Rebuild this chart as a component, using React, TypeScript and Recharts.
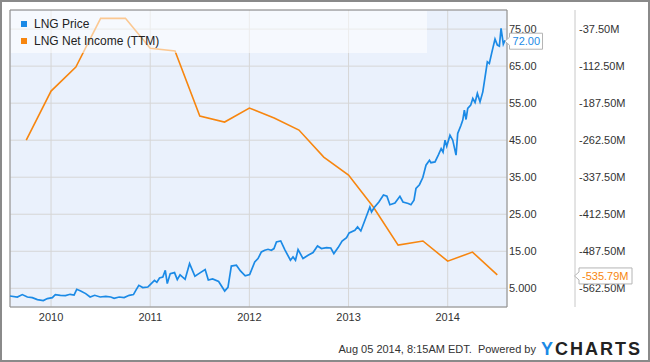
import React from "react";
import { ComposedChart, Line, XAxis, YAxis, CartesianGrid, Legend, ReferenceArea } from "recharts";

// LNG price (decimal year, USD)
const priceDates = [
  2009.586, 2009.66, 2009.71, 2009.761, 2009.811, 2009.862, 2009.922, 2009.963, 2010.013, 2010.043,
  2010.094, 2010.145, 2010.192, 2010.232, 2010.259, 2010.299, 2010.349, 2010.394, 2010.44, 2010.495,
  2010.552, 2010.602, 2010.636, 2010.687, 2010.737, 2010.788, 2010.831, 2010.859, 2010.885, 2010.925,
  2010.976, 2011.0, 2011.043, 2011.067, 2011.094, 2011.127, 2011.152, 2011.172, 2011.202, 2011.245,
  2011.273, 2011.301, 2011.352, 2011.397, 2011.451, 2011.498, 2011.554, 2011.586, 2011.629, 2011.69,
  2011.751, 2011.784, 2011.818, 2011.869, 2011.91, 2011.958, 2012.003, 2012.054, 2012.087, 2012.121,
  2012.155, 2012.188, 2012.222, 2012.248, 2012.273, 2012.316, 2012.357, 2012.414, 2012.44, 2012.465,
  2012.491, 2012.541, 2012.592, 2012.642, 2012.687, 2012.727, 2012.778, 2012.821, 2012.852, 2012.895,
  2012.935, 2012.98, 2013.006, 2013.064, 2013.091, 2013.124, 2013.165, 2013.215, 2013.232, 2013.259,
  2013.306, 2013.352, 2013.387, 2013.417, 2013.468, 2013.518, 2013.549, 2013.602, 2013.629, 2013.66,
  2013.68, 2013.715, 2013.749, 2013.781, 2013.816, 2013.831, 2013.872, 2013.905, 2013.934, 2013.953,
  2013.973, 2013.99, 2014.023, 2014.051, 2014.084, 2014.101, 2014.134, 2014.152, 2014.168, 2014.185,
  2014.202, 2014.232, 2014.253, 2014.276, 2014.299, 2014.326, 2014.354, 2014.377, 2014.4, 2014.42,
  2014.444, 2014.477, 2014.501, 2014.521, 2014.538, 2014.561, 2014.578,
];
const priceValues = [
  2.92, 2.65, 3.3, 2.65, 2.49, 1.95, 1.68, 2.22, 2.49, 3.3,
  3.11, 3.03, 3.38, 3.19, 4.73, 4.27, 3.57, 2.65, 3.11, 2.65,
  2.84, 2.65, 2.3, 2.65, 2.49, 3.11, 3.3, 4.65, 5.81, 5.19,
  5.35, 6.0, 7.16, 6.62, 7.78, 8.05, 9.86, 6.27, 8.97, 9.24,
  7.35, 8.65, 7.43, 11.68, 8.24, 9.11, 10.08, 7.24, 7.51, 6.84,
  4.27, 5.27, 11.0, 11.22, 9.68, 8.38, 8.7, 12.11, 13.03, 14.81,
  15.27, 15.54, 15.27, 15.73, 17.51, 17.78, 15.46, 12.57, 13.46, 12.57,
  15.46, 13.03, 13.92, 14.65, 16.43, 15.73, 16.0, 15.89, 14.38, 16.0,
  17.78, 18.7, 19.95, 20.68, 21.57, 20.49, 23.38, 26.97, 25.62, 26.81,
  28.32, 30.19, 29.86, 27.57, 28.05, 29.86, 28.32, 27.89, 27.57, 28.78,
  31.95, 32.97, 34.92, 38.24, 39.59, 38.92, 39.14, 40.95, 42.7, 41.76,
  45.0, 43.38, 46.35, 45.0, 40.95, 46.81, 49.05, 50.41, 53.11, 50.59,
  53.57, 54.46, 56.27, 55.19, 57.62, 55.35, 58.05, 62.11, 66.16, 65.73,
  68.59, 72.3, 70.68, 70.41, 75.19, 70.95, 72.0,
];

// quarterly net income (TTM), millions USD
const incomeDates = [
  2009.75, 2010.0, 2010.25, 2010.5, 2010.75, 2011.0, 2011.25, 2011.5, 2011.75, 2012.0,
  2012.25, 2012.5, 2012.75, 2013.0, 2013.25, 2013.5, 2013.75, 2014.0, 2014.25, 2014.5,
];
const incomeValues = [
  -262.5, -163.2, -114.5, -15.8, -15.8, -76.6, -82.1, -213.9, -226.0, -197.6,
  -217.9, -242.2, -297.0, -333.4, -398.0, -475.3, -467.0, -507.8, -489.5, -535.79,
];

const yearTicks = [2010, 2011, 2012, 2013, 2014];
const priceTicks = [5, 15, 25, 35, 45, 55, 65, 75];
const incomeTicks = [-562.5, -487.5, -412.5, -337.5, -262.5, -187.5, -112.5, -37.5];
const seriesNames = ["LNG Price", "LNG Net Income (TTM)"];

const BLUE = "#1b8ae6";
const ORANGE = "#f7860f";
const FONT = "'Liberation Sans', Arial, sans-serif";

const W = 650;
const H = 362;
const PRICE_AXIS_W = 68;
const INCOME_AXIS_W = 75;
const PLOT_RIGHT = W - PRICE_AXIS_W - INCOME_AXIS_W;

// axis ids: right axes get stacked by id, so price ("a") sits next to the plot
const PRICE_AXIS = "a";
const INCOME_AXIS = "b";

const X_DOMAIN: [number, number] = [2009.586, 2014.598];
const PRICE_DOMAIN: [number, number] = [-0.05, 80.16];
const INCOME_DOMAIN: [number, number] = [-600.75, 1.1];

const priceData = priceDates.map((t, i) => ({ t, price: priceValues[i] }));
const incomeData = incomeDates.map((t, i) => ({ t, income: incomeValues[i] }));

function Tag({ tipX, y, boxW, text, color }: { tipX: number; y: number; boxW: number; text: string; color: string }) {
  const left = tipX + 4.5;
  const top = y - 8;
  const d = `M${tipX},${y} L${left},${y - 4} L${left},${top} L${left + boxW},${top} L${left + boxW},${top + 16} L${left},${top + 16} L${left},${y + 4} Z`;
  return (
    <g>
      <path d={d} fill="#fff" stroke="#b4b4b4" strokeWidth={1} />
      <text x={left + 3} y={y} dy="0.36em" fill={color} fontSize={11} fontFamily={FONT}>
        {text}
      </text>
    </g>
  );
}

const renderPriceTag = (props: any) => {
  if (props.index !== priceValues.length - 1) return null;
  return <Tag tipX={props.x} y={props.y + 1} boxW={33} text={priceValues[props.index].toFixed(2)} color={BLUE} />;
};

const renderIncomeTag = (props: any) => {
  if (props.index !== incomeValues.length - 1) return null;
  return (
    <Tag tipX={PLOT_RIGHT + PRICE_AXIS_W - 0.5} y={props.y + 1} boxW={53} text={`${incomeValues[props.index].toFixed(2)}M`} color={ORANGE} />
  );
};

const renderLegend = () => (
  <div style={{ paddingTop: 4, paddingLeft: 10, fontFamily: FONT, fontSize: 12, color: "#222" }}>
    {seriesNames.map((name, i) => (
      <div key={name} style={{ display: "flex", alignItems: "center", height: 17 }}>
        <span style={{ width: 6, height: 6, background: i === 0 ? BLUE : ORANGE, marginRight: 7 }} />
        <span>{name}</span>
      </div>
    ))}
  </div>
);

export default function App() {
  return (
    <div style={{ position: "fixed", left: 0, top: 0, width: W, height: H, background: "#fff", fontFamily: FONT }}>
      <ComposedChart width={W} height={H} margin={{ top: 10, right: 0, bottom: 35, left: 10 }}>
        <CartesianGrid yAxisId={PRICE_AXIS} stroke="#d6d6d6" fill="#eaf1fc" />
        <XAxis
          dataKey="t"
          type="number"
          domain={X_DOMAIN}
          ticks={yearTicks}
          height={20}
          axisLine={false}
          tickLine={false}
          tickSize={0}
          tickMargin={6}
          tick={{ fill: "#333", fontSize: 11 }}
          tickFormatter={(v) => String(v)}
        />
        <YAxis
          yAxisId={PRICE_AXIS}
          orientation="right"
          width={PRICE_AXIS_W}
          domain={PRICE_DOMAIN}
          ticks={priceTicks}
          axisLine={false}
          tickLine={false}
          tickSize={0}
          tickMargin={2}
          tick={{ fill: "#333", fontSize: 11 }}
          tickFormatter={(v) => Number(v).toPrecision(4)}
        />
        <YAxis
          yAxisId={INCOME_AXIS}
          orientation="right"
          width={INCOME_AXIS_W}
          domain={INCOME_DOMAIN}
          ticks={incomeTicks}
          axisLine={{ stroke: "#c8c8c8" }}
          tickLine={false}
          tickSize={0}
          tickMargin={4}
          tick={{ fill: "#333", fontSize: 11 }}
          tickFormatter={(v) => `${Number(v).toFixed(2)}M`}
        />
        <Line
          yAxisId={INCOME_AXIS}
          data={incomeData}
          dataKey="income"
          type="linear"
          stroke={ORANGE}
          strokeWidth={1.6}
          dot={false}
          isAnimationActive={false}
          label={renderIncomeTag}
        />
        <Line
          yAxisId={PRICE_AXIS}
          data={priceData}
          dataKey="price"
          type="linear"
          stroke={BLUE}
          strokeWidth={1.7}
          dot={false}
          isAnimationActive={false}
          label={renderPriceTag}
        />
        <ReferenceArea
          yAxisId={PRICE_AXIS}
          x1={X_DOMAIN[0]}
          x2={X_DOMAIN[1]}
          y1={PRICE_DOMAIN[0]}
          y2={PRICE_DOMAIN[1]}
          fill="none"
          fillOpacity={0}
          stroke="#8c8c8c"
          strokeWidth={1}
        />
        <Legend
          layout="vertical"
          align="center"
          verticalAlign="middle"
          wrapperStyle={{ left: 11, top: 11, width: 416, height: 42, background: "rgba(255,255,255,0.55)" }}
          content={renderLegend}
        />
      </ComposedChart>
      <div
        style={{
          position: "absolute",
          right: 8,
          top: 339,
          height: 20,
          display: "flex",
          alignItems: "center",
          fontSize: 11,
          color: "#333",
        }}
      >
        <span>Aug 05 2014, 8:15AM EDT.&nbsp; Powered by</span>
        <span style={{ marginLeft: 5, fontSize: 18, fontWeight: "bold", letterSpacing: 2, color: "#222" }}>
          <span style={{ color: BLUE }}>Y</span>CHARTS
        </span>
      </div>
      <div style={{ position: "absolute", inset: 0, border: "2px solid #8a8a8a", boxSizing: "border-box", pointerEvents: "none" }} />
    </div>
  );
}
